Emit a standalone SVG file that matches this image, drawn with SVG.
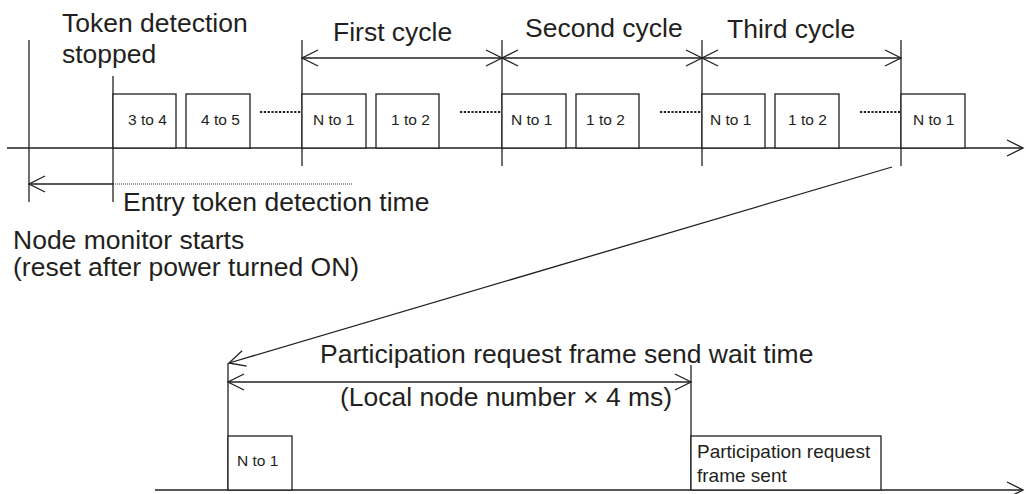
<svg xmlns="http://www.w3.org/2000/svg" width="1026" height="494" viewBox="0 0 1026 494">
<style>
.ln{stroke:#231f20;stroke-width:1.3;fill:none}
.bx{stroke:#231f20;stroke-width:1.3;fill:#fff}
.dt{stroke:#231f20;stroke-width:2.2;stroke-dasharray:2.2 1.6;fill:none}
.dt2{stroke:#231f20;stroke-width:0.9;stroke-dasharray:1 1;fill:none}
.big{font-family:"Liberation Sans",Arial,sans-serif;font-size:26.5px;fill:#231f20}
.sm{font-family:"Liberation Sans",Arial,sans-serif;font-size:15.5px;fill:#231f20}
.md{font-family:"Liberation Sans",Arial,sans-serif;font-size:19px;fill:#231f20}
</style>
<defs>
<marker id="ah" viewBox="-17 -9 19 18" markerWidth="19" markerHeight="18" refX="0" refY="0" orient="auto-start-reverse" markerUnits="userSpaceOnUse">
<path d="M-16,-8 L0,0 L-16,8" fill="none" stroke="#231f20" stroke-width="1.3"/>
</marker>
</defs>
<g id="connectors">
<line class="ln" x1="7" y1="148" x2="1023" y2="148" marker-end="url(#ah)"/>
<line class="ln" x1="29" y1="40" x2="29" y2="202"/>
<line class="ln" x1="113" y1="76" x2="113" y2="202"/>
<line class="ln" x1="302" y1="40" x2="302" y2="166"/>
<line class="ln" x1="502" y1="40" x2="502" y2="166"/>
<line class="ln" x1="702" y1="40" x2="702" y2="166"/>
<line class="ln" x1="901" y1="40" x2="901" y2="166"/>
<line class="ln" x1="302" y1="58" x2="502" y2="58" marker-start="url(#ah)" marker-end="url(#ah)"/>
<line class="ln" x1="502" y1="58" x2="702" y2="58" marker-start="url(#ah)" marker-end="url(#ah)"/>
<line class="ln" x1="702" y1="58" x2="901" y2="58" marker-start="url(#ah)" marker-end="url(#ah)"/>
<line class="ln" x1="113" y1="184" x2="29" y2="184" marker-end="url(#ah)"/>
<line class="dt2" x1="113" y1="184" x2="353" y2="184"/>
<line class="dt" x1="260" y1="112" x2="301" y2="112"/>
<line class="dt" x1="460" y1="112" x2="501" y2="112"/>
<line class="dt" x1="660" y1="112" x2="701" y2="112"/>
<line class="dt" x1="860" y1="112" x2="900" y2="112"/>
<line class="ln" x1="892" y1="167" x2="229" y2="363" marker-end="url(#ah)"/>
<line class="ln" x1="228" y1="363" x2="228" y2="490"/>
<line class="ln" x1="691" y1="365" x2="691" y2="490"/>
<line class="ln" x1="228" y1="382" x2="691" y2="382" marker-start="url(#ah)" marker-end="url(#ah)"/>
<line class="ln" x1="155" y1="490" x2="1023" y2="490" marker-end="url(#ah)"/>
</g>
<g id="b1"><rect class="bx" x="113" y="94" width="63" height="54"/><text class="sm" x="128" y="125">3 to 4</text></g>
<g id="b2"><rect class="bx" x="186" y="94" width="64" height="54"/><text class="sm" x="201" y="125">4 to 5</text></g>
<g id="b3"><rect class="bx" x="302" y="94" width="64" height="54"/><text class="sm" x="313" y="125">N to 1</text></g>
<g id="b4"><rect class="bx" x="376" y="94" width="63" height="54"/><text class="sm" x="391" y="125">1 to 2</text></g>
<g id="b5"><rect class="bx" x="502" y="94" width="64" height="54"/><text class="sm" x="511" y="125">N to 1</text></g>
<g id="b6"><rect class="bx" x="576" y="94" width="63" height="54"/><text class="sm" x="586" y="125">1 to 2</text></g>
<g id="b7"><rect class="bx" x="702" y="94" width="63" height="54"/><text class="sm" x="710" y="125">N to 1</text></g>
<g id="b8"><rect class="bx" x="775" y="94" width="64" height="54"/><text class="sm" x="788" y="125">1 to 2</text></g>
<g id="b9"><rect class="bx" x="901" y="94" width="64" height="54"/><text class="sm" x="913" y="125">N to 1</text></g>
<g id="b10"><rect class="bx" x="228" y="436" width="64" height="54"/><text class="sm" x="237" y="466">N to 1</text></g>
<g id="b11"><rect class="bx" x="691" y="436" width="190" height="54"/><text class="md" x="697" y="458">Participation request</text><text class="md" x="697" y="482">frame sent</text></g>
<g id="labels">
<text class="big" x="62" y="32">Token detection</text>
<text class="big" x="62" y="63">stopped</text>
<text class="big" x="333" y="41">First cycle</text>
<text class="big" x="525" y="37">Second cycle</text>
<text class="big" x="727" y="38">Third cycle</text>
<text class="big" x="123" y="211">Entry token detection time</text>
<text class="big" x="13" y="249">Node monitor starts</text>
<text class="big" x="13" y="276">(reset after power turned ON)</text>
<text class="big" x="320" y="363">Participation request frame send wait time</text>
<text class="big" x="340" y="406">(Local node number × 4 ms)</text>
</g>
</svg>
